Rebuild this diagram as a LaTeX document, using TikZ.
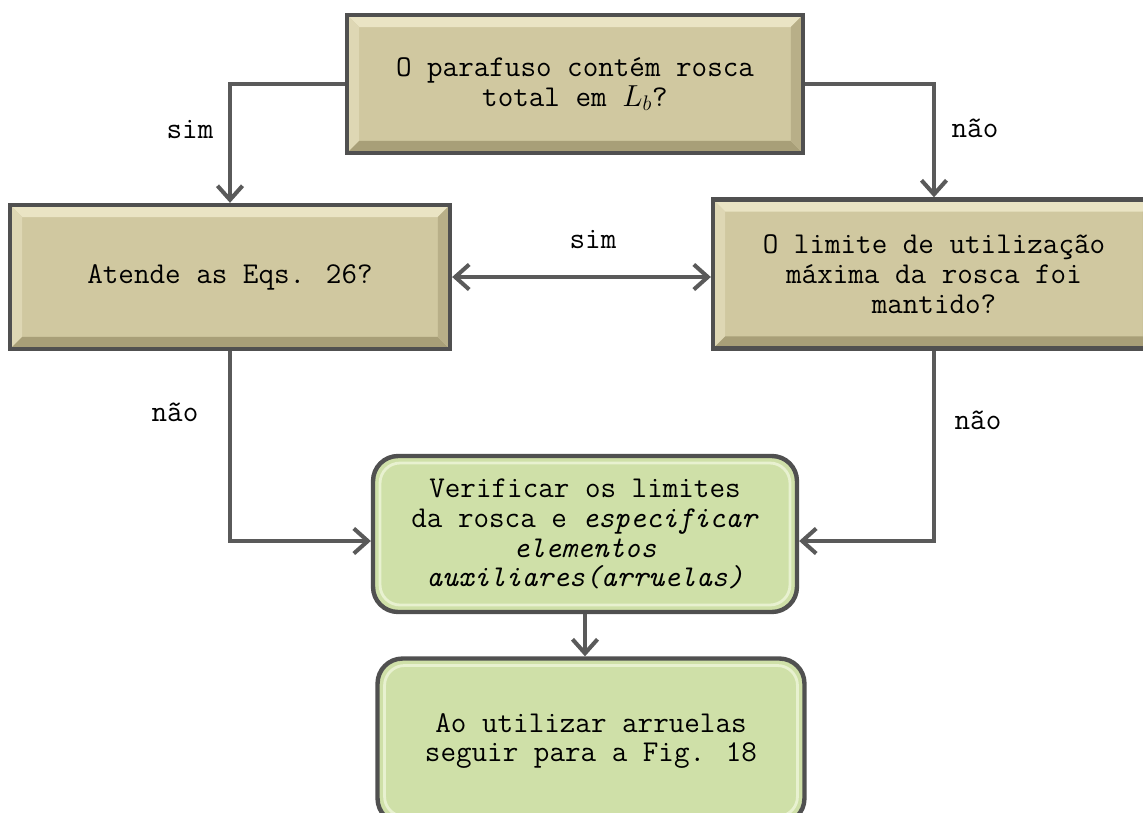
\documentclass[tikz,border=0pt]{standalone}
\definecolor{boxbeige}{RGB}{208,200,160}
\definecolor{beigelight}{RGB}{234,228,196}
\definecolor{beigeside}{RGB}{222,215,180}
\definecolor{beigedark}{RGB}{168,159,120}
\definecolor{beigeshade}{RGB}{184,175,136}
\definecolor{boxgreen}{RGB}{207,224,168}
\definecolor{greenlight}{RGB}{232,241,208}
\definecolor{edgegray}{RGB}{80,80,80}
\definecolor{linegray}{RGB}{90,90,90}
\usepackage{fontspec}
\usepackage{tikz}
\usetikzlibrary{arrows.meta,positioning,calc}

\begin{document}
\begin{tikzpicture}[x=0.02cm,y=-0.02cm,
    font=\ttfamily\fontsize{17.2}{17}\selectfont,
    >={Straight Barb[length=0.28cm,width=0.5cm]},
    conn/.style={draw=linegray,line width=2.3pt},
    question/.style={draw=edgegray,line width=2.5pt,fill=boxbeige,align=center,
        inner sep=0pt,
        path picture={
            \fill[beigelight] (path picture bounding box.north west) -- (path picture bounding box.north east)
                -- ([shift={(-0.24cm,-0.24cm)}]path picture bounding box.north east)
                -- ([shift={(0.24cm,-0.24cm)}]path picture bounding box.north west) -- cycle;
            \fill[beigeside] (path picture bounding box.north west) -- (path picture bounding box.south west)
                -- ([shift={(0.24cm,0.24cm)}]path picture bounding box.south west)
                -- ([shift={(0.24cm,-0.24cm)}]path picture bounding box.north west) -- cycle;
            \fill[beigedark] (path picture bounding box.south west) -- (path picture bounding box.south east)
                -- ([shift={(-0.24cm,0.24cm)}]path picture bounding box.south east)
                -- ([shift={(0.24cm,0.24cm)}]path picture bounding box.south west) -- cycle;
            \fill[beigeshade] (path picture bounding box.north east) -- (path picture bounding box.south east)
                -- ([shift={(-0.24cm,0.24cm)}]path picture bounding box.south east)
                -- ([shift={(-0.24cm,-0.24cm)}]path picture bounding box.north east) -- cycle;
        }},
    action/.style={draw=edgegray,line width=2.5pt,fill=boxgreen,align=center,
        rounded corners=0.5cm,inner sep=0pt,
        path picture={
            \draw[greenlight,line width=1.6pt,rounded corners=0.4cm]
                ([shift={(0.14cm,-0.14cm)}]path picture bounding box.north west)
                rectangle ([shift={(-0.14cm,0.14cm)}]path picture bounding box.south east);
        }},
    lbl/.style={inner sep=1pt}]
\useasboundingbox (0,0) rectangle (1143,812);

% perguntas
\node[question,minimum width=9.12cm,minimum height=2.76cm] (rosca) at (575,84)
    {O parafuso contém rosca\\total em $L_b$?};
\node[question,minimum width=8.8cm,minimum height=2.88cm] (eqs) at (230,277)
    {Atende as Eqs. 26?};
\node[question,minimum width=8.84cm,minimum height=2.98cm] (limite) at (934,274)
    {O limite de utilização\\máxima da rosca foi\\mantido?};

% acoes
\node[action,minimum width=8.48cm,minimum height=3.12cm] (verificar) at (585,534)
    {Verificar os limites\\da rosca e \textit{especificar}\\\textit{elementos}\\\textit{auxiliares(arruelas)}};
\node[action,minimum width=8.54cm,minimum height=3.3cm] (arruelas) at (591,741)
    {Ao utilizar arruelas\\seguir para a Fig. 18};

% ligacoes
\draw[conn,->] (rosca.west) -| (eqs.north);
\draw[conn,->] (rosca.east) -| (limite.north);
\draw[conn,<->] (eqs.east) -- (eqs.east -| limite.west);
\draw[conn,->] (eqs.south) |- ($(verificar.west)+(0,7)$);
\draw[conn,->] (limite.south) |- ($(verificar.east)+(0,7)$);
\draw[conn,->] (verificar.south) -- (verificar.south |- arruelas.north);

% rotulos
\node[lbl] (simA) at (190,130) {sim};
\node[lbl] (naoA) at (975,128) {não};
\node[lbl] (simB) at (593,240) {sim};
\node[lbl] (naoB) at (175,412) {não};
\node[lbl] (naoC) at (978,420) {não};
\end{tikzpicture}
\end{document}
